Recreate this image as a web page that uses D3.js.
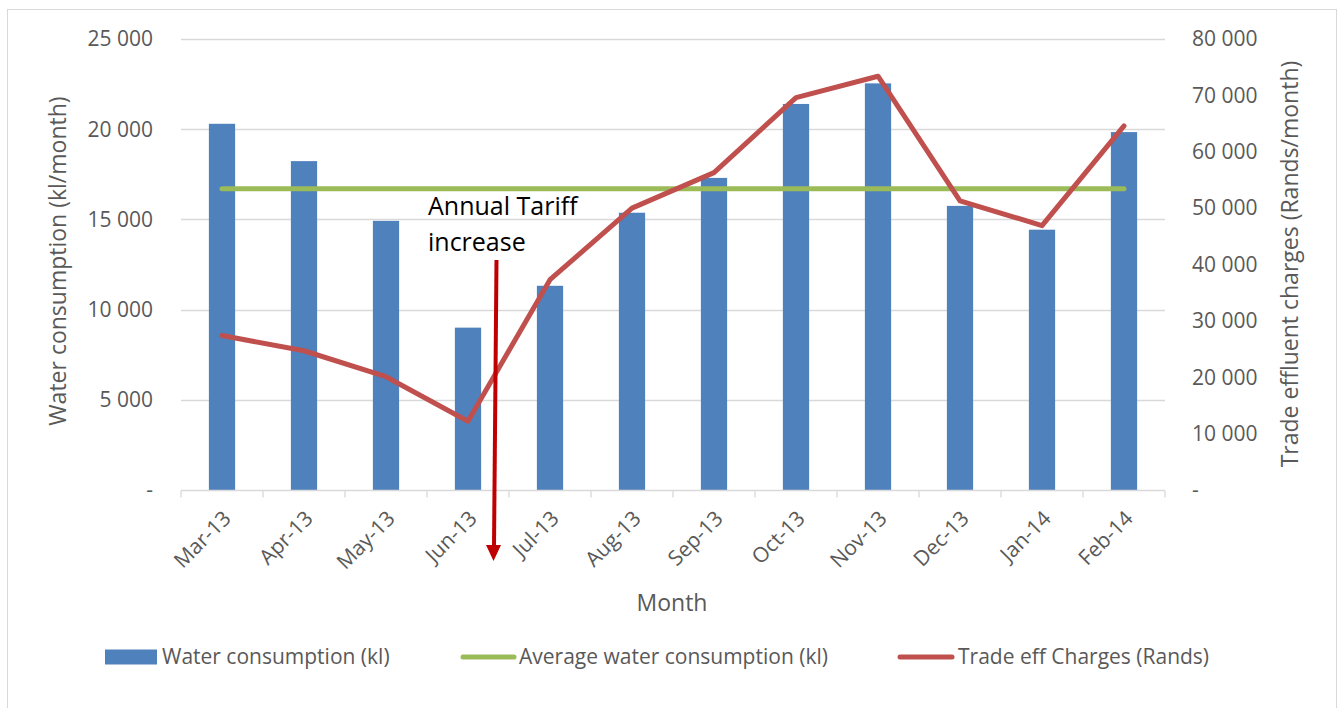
<!DOCTYPE html>
<html>
<head>
<meta charset="utf-8">
<script src="https://cdn.jsdelivr.net/npm/d3@7"></script>
<style>
  body { margin: 0; background: #fff; }
  text { font-family: "Open Sans", Lato, sans-serif; }
</style>
</head>
<body>
<div id="chart"></div>
<script>
// data
var months = ["Mar-13", "Apr-13", "May-13", "Jun-13", "Jul-13", "Aug-13",
  "Sep-13", "Oct-13", "Nov-13", "Dec-13", "Jan-14", "Feb-14"];
var water = [20300, 18230, 14920, 9000, 11320, 15370, 17300, 21400, 22540, 15750, 14430, 19840];
var average = 16700;
var charges = [27400, 24700, 20100, 12200, 37300, 50000, 56300, 69600, 73400, 51300, 46900, 64600];
var leftTicks = [0, 5000, 10000, 15000, 20000, 25000];
var rightTicks = [0, 10000, 20000, 30000, 40000, 50000, 60000, 70000, 80000];

var W = 1338, H = 708;
var margin = { top: 39, right: 173, bottom: 218, left: 181 };
var width = W - margin.left - margin.right;
var height = H - margin.top - margin.bottom;

function fmt(v) {
  if (v === 0) return "-";
  return d3.format(",")(v).replace(/,/g, " ");
}

var svg = d3.select("#chart").append("svg")
  .attr("width", W)
  .attr("height", H);

// outer chart border
svg.append("rect")
  .attr("x", 7.5).attr("y", 9.5)
  .attr("width", 1329).attr("height", 710)
  .attr("fill", "none")
  .attr("stroke", "#d9d9d9");

var g = svg.append("g")
  .attr("transform", "translate(" + margin.left + "," + margin.top + ")");

var x = d3.scaleBand().domain(months).range([0, width]).paddingInner(0.68).paddingOuter(0.34);
var yL = d3.scaleLinear().domain([0, 25000]).range([height, 0]);
var yR = d3.scaleLinear().domain([0, 80000]).range([height, 0]);
var xc = function (m) { return x(m) + x.bandwidth() / 2; };

// gridlines
g.append("g").selectAll("line")
  .data(leftTicks.slice(1))
  .join("line")
  .attr("x1", 0).attr("x2", width)
  .attr("y1", function (d) { return Math.round(yL(d)) + 0.5; })
  .attr("y2", function (d) { return Math.round(yL(d)) + 0.5; })
  .attr("stroke", "#d9d9d9").attr("stroke-width", 1.3);

// left axis labels
g.append("g").selectAll("text")
  .data(leftTicks)
  .join("text")
  .attr("x", -28)
  .attr("y", function (d) { return yL(d); })
  .attr("dy", "0.35em")
  .attr("text-anchor", "end")
  .attr("fill", "#595959")
  .attr("font-size", 21)
  .text(fmt);

// right axis labels
g.append("g").selectAll("text")
  .data(rightTicks)
  .join("text")
  .attr("x", width + 27)
  .attr("y", function (d) { return yR(d); })
  .attr("dy", "0.35em")
  .attr("text-anchor", "start")
  .attr("fill", "#595959")
  .attr("font-size", 21)
  .text(fmt);

// bars
g.append("g").selectAll("rect")
  .data(water)
  .join("rect")
  .attr("x", function (d, i) { return x(months[i]); })
  .attr("y", function (d) { return yL(d); })
  .attr("width", x.bandwidth())
  .attr("height", function (d) { return height - yL(d); })
  .attr("fill", "#4f81bd");

// x axis line + ticks
var xAxis = g.append("g").attr("transform", "translate(0," + (height + 0.5) + ")");
xAxis.append("line").attr("x1", 0).attr("x2", width).attr("stroke", "#d9d9d9").attr("stroke-width", 1.3);
xAxis.selectAll(".tk")
  .data(d3.range(months.length + 1))
  .join("line")
  .attr("x1", function (i) { return i * width / months.length; })
  .attr("x2", function (i) { return i * width / months.length; })
  .attr("y1", 0).attr("y2", 7)
  .attr("stroke", "#d9d9d9").attr("stroke-width", 1.3);

xAxis.selectAll("text")
  .data(months)
  .join("text")
  .attr("transform", function (m) { return "translate(" + (xc(m) + 5) + ",24) rotate(-45)"; })
  .attr("text-anchor", "end")
  .attr("dy", "0.35em")
  .attr("fill", "#595959")
  .attr("font-size", 21)
  .text(function (m) { return m; });

// average line
g.append("line")
  .attr("x1", xc(months[0])).attr("x2", xc(months[months.length - 1]))
  .attr("y1", yL(average)).attr("y2", yL(average))
  .attr("stroke", "#9bbb59").attr("stroke-width", 5).attr("stroke-linecap", "round");

// charges line
var line = d3.line()
  .x(function (d, i) { return xc(months[i]); })
  .y(function (d) { return yR(d); });
g.append("path")
  .datum(charges)
  .attr("d", line)
  .attr("fill", "none")
  .attr("stroke", "#c0504d")
  .attr("stroke-width", 5)
  .attr("stroke-linejoin", "round")
  .attr("stroke-linecap", "round");

// annotation
var ann = svg.append("g");
ann.append("text").attr("x", 428).attr("y", 215).attr("font-size", 25).attr("fill", "#000").text("Annual Tariff");
ann.append("text").attr("x", 428).attr("y", 251).attr("font-size", 25).attr("fill", "#000").text("increase");
ann.append("line")
  .attr("x1", 496.5).attr("y1", 260).attr("x2", 494).attr("y2", 547)
  .attr("stroke", "#c00000").attr("stroke-width", 4);
ann.append("path")
  .attr("d", "M486,545 L501,545 L493.5,561 Z")
  .attr("fill", "#c00000");

// axis titles
svg.append("text")
  .attr("x", 672).attr("y", 611)
  .attr("text-anchor", "middle")
  .attr("font-size", 23)
  .attr("fill", "#595959")
  .text("Month");
svg.append("text")
  .attr("transform", "translate(66,261) rotate(-90)")
  .attr("text-anchor", "middle")
  .attr("font-size", 23)
  .attr("fill", "#595959")
  .text("Water consumption (kl/month)");
svg.append("text")
  .attr("transform", "translate(1298,264) rotate(-90)")
  .attr("text-anchor", "middle")
  .attr("font-size", 23)
  .attr("fill", "#595959")
  .text("Trade effluent charges (Rands/month)");

// legend
var ly = 657;
var leg = svg.append("g").attr("font-size", 21).attr("fill", "#595959");
leg.append("rect").attr("x", 105).attr("y", ly - 7.5).attr("width", 52).attr("height", 15).attr("fill", "#4f81bd");
leg.append("text").attr("x", 162).attr("y", ly).attr("dy", "0.35em").text("Water consumption (kl)");
leg.append("line").attr("x1", 463).attr("x2", 514).attr("y1", ly).attr("y2", ly)
  .attr("stroke", "#9bbb59").attr("stroke-width", 5).attr("stroke-linecap", "round");
leg.append("text").attr("x", 519).attr("y", ly).attr("dy", "0.35em").text("Average water consumption (kl)");
leg.append("line").attr("x1", 900).attr("x2", 952).attr("y1", ly).attr("y2", ly)
  .attr("stroke", "#c0504d").attr("stroke-width", 5).attr("stroke-linecap", "round");
leg.append("text").attr("x", 958).attr("y", ly).attr("dy", "0.35em").text("Trade eff Charges (Rands)");
</script>
</body>
</html>
